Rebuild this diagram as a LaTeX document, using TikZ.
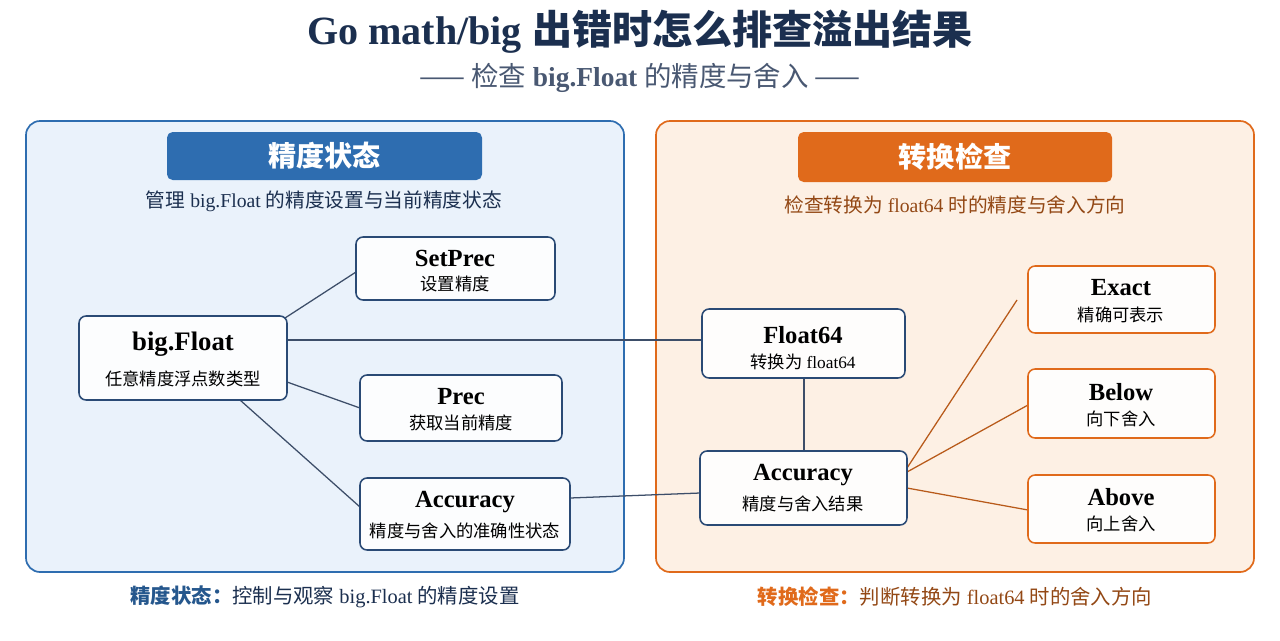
\documentclass[tikz,border=0pt]{standalone}
\usepackage{fontspec}
\setmainfont{Liberation Serif}
\newfontfamily\cjk{Noto Sans CJK SC}
\begin{document}
\begin{tikzpicture}[x=0.025cm,y=-0.025cm,
  box/.style={draw=#1,line width=1.1pt,rounded corners=5pt,fill=white,fill opacity=0.9,text opacity=1,align=center,inner sep=0pt},
  ln/.style={line width=0.9pt},
  ttl/.style={font=\fontsize{17.5}{19}\selectfont\bfseries},
  sub/.style={font=\fontsize{12.3}{14}\selectfont\cjk}]
\definecolor{navy}{HTML}{1B2F4F}
\definecolor{bblue}{HTML}{2E6DB0}
\definecolor{bfill}{HTML}{EAF2FB}
\definecolor{bdark}{HTML}{2A4A75}
\definecolor{orng}{HTML}{E06A1B}
\definecolor{ofill}{HTML}{FDF0E4}
\definecolor{odark}{HTML}{B85A1A}
\fill[white] (0,0) rectangle (1280,640);
\node[text=navy,font=\fontsize{28.5}{30}\selectfont\bfseries] (title) at (640,32) {Go math/big {\cjk 出错时怎么排查溢出结果}};
\node[text=navy!80,font=\fontsize{19.5}{22}\selectfont] (subt) at (640,78) {{\cjk —— 检查} \textbf{big.Float} {\cjk 的精度与舍入 ——}};
% panels
\draw[draw=bblue,fill=bfill,line width=1.2pt,rounded corners=10pt] (26,121) rectangle (624,572);
\draw[draw=orng,fill=ofill,line width=1.2pt,rounded corners=10pt] (656,121) rectangle (1254,572);
\node[fill=bblue,rounded corners=4pt,minimum width=315*0.025cm,minimum height=48*0.025cm,text=white,font=\fontsize{20}{22}\selectfont\cjk\bfseries] (hl) at (324.5,156) {精度状态};
\node[fill=orng,rounded corners=4pt,minimum width=314*0.025cm,minimum height=50*0.025cm,text=white,font=\fontsize{20}{22}\selectfont\cjk\bfseries] (hr) at (955,157) {转换检查};
\node[text=navy,font=\fontsize{14}{16}\selectfont] (dl) at (324,201) {{\cjk 管理} big.Float {\cjk 的精度设置与当前精度状态}};
\node[text=odark!80!black,font=\fontsize{14}{16}\selectfont] (dr) at (955,205) {{\cjk 检查转换为} float64 {\cjk 时的精度与舍入方向}};
% edges
\coordinate (bf1) at (285,318); \coordinate (sp1) at (356,272);
\coordinate (bf2) at (287,382); \coordinate (pr1) at (360,408);
\coordinate (bf3) at (240,400); \coordinate (ac1) at (360,507);
\draw[ln,navy!85] (bf1) -- (sp1);
\draw[ln,navy!85] (bf2) -- (pr1);
\draw[ln,navy!85] (bf3) -- (ac1);
\draw[ln,navy!85] (287,340) -- (702,340);
\draw[ln,navy!85] (570,498) -- (700,493);
\draw[ln,navy!85] (804,378) -- (804,451);
\coordinate (ex0) at (1017,300);
\draw[ln,odark] (907,468) -- (ex0);
\draw[ln,odark] (907,472) -- (1028,405);
\draw[ln,odark] (907,488) -- (1028,510);
% left nodes
\node[box=bdark,minimum width=208*0.025cm,minimum height=84*0.025cm] (bf) at (183,358) {};
\node[ttl,font=\fontsize{19}{21}\selectfont\bfseries] at (183,344) {big.Float}; \node[sub] at (183,379) {任意精度浮点数类型};
\node[box=bdark,minimum width=199*0.025cm,minimum height=63*0.025cm] (sp) at (455.5,268.5) {};
\node[ttl] at (455,258) {SetPrec}; \node[sub] at (455,284) {设置精度};
\node[box=bdark,minimum width=202*0.025cm,minimum height=66*0.025cm] (pr) at (461,408) {};
\node[ttl] at (461,397) {Prec}; \node[sub] at (461,423) {获取当前精度};
\node[box=bdark,minimum width=210*0.025cm,minimum height=72*0.025cm] (ac) at (465,514) {};
\node[ttl] at (465,502) {Accuracy}; \node[sub] at (465,531) {精度与舍入的准确性状态};
% right nodes
\node[box=bdark,minimum width=203*0.025cm,minimum height=69*0.025cm] (f6) at (803.5,343.5) {};
\node[ttl] at (803,335) {Float64}; \node[font=\fontsize{12.3}{14}\selectfont] at (803,362) {{\cjk 转换为} float64};
\node[box=bdark,minimum width=207*0.025cm,minimum height=74*0.025cm] (ar) at (803.5,488) {};
\node[ttl] at (803,475) {Accuracy}; \node[sub] at (803,504) {精度与舍入结果};
\node[box=orng,minimum width=187*0.025cm,minimum height=67*0.025cm] (ex) at (1121.5,299.5) {};
\node[ttl] at (1121,288) {Exact}; \node[sub] at (1121,315) {精确可表示};
\node[box=orng,minimum width=187*0.025cm,minimum height=69*0.025cm] (be) at (1121.5,403.5) {};
\node[ttl] at (1121,392) {Below}; \node[sub] at (1121,419) {向下舍入};
\node[box=orng,minimum width=187*0.025cm,minimum height=68*0.025cm] (ab) at (1121.5,509) {};
\node[ttl] at (1121,497) {Above}; \node[sub] at (1121,524) {向上舍入};
% footers
\node[font=\fontsize{14.5}{16}\selectfont,text=navy] (fl) at (325,597) {{\cjk\bfseries\color{bblue!80!black}精度状态：}{\cjk 控制与观察} big.Float {\cjk 的精度设置}};
\node[font=\fontsize{14.5}{16}\selectfont,text=odark!80!black] (fr) at (955,597) {{\cjk\bfseries\color{orng}转换检查：}{\cjk 判断转换为} float64 {\cjk 时的舍入方向}};
\end{tikzpicture}
\end{document}
